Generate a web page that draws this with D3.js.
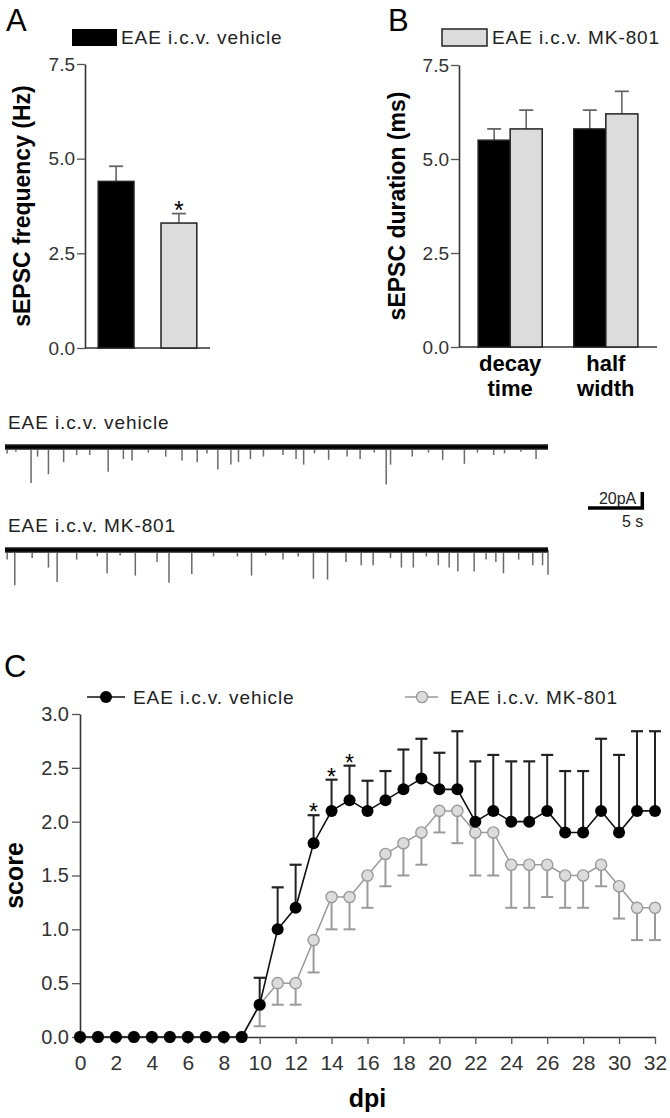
<!DOCTYPE html>
<html><head><meta charset="utf-8">
<script src="https://cdn.jsdelivr.net/npm/d3@7"></script>
<style>
body{margin:0;background:#fff}
svg{display:block}
text{font-family:"Liberation Sans",Arial,Helvetica,sans-serif}
</style>
</head><body>
<svg id="chart" width="670" height="1118"></svg>
<script>
// ---------------- DATA ----------------
const groups = ["EAE i.c.v. vehicle", "EAE i.c.v. MK-801"];
// Panel A
const freqMean = [4.4, 3.3];
const freqSem = [0.4, 0.25];
const freqSig = [false, true];
const barTicks = [0, 2.5, 5.0, 7.5];
// Panel B
const durCats = ["decay time", "half width"];
const durVehicle = [5.5, 5.8];
const durVehicleSem = [0.3, 0.5];
const durMK = [5.8, 6.2];
const durMKSem = [0.5, 0.6];
// Traces: spike time (s) and amplitude (pA)
const trace1Time = [0.2,1.0,2.4,3.0,4.0,5.4,6.6,7.8,9.5,10.9,11.7,13.2,14.8,16.3,17.7,18.6,19.6,20.8,21.5,22.6,23.8,25.6,26.8,27.5,28.5,29.8,31.5,32.7,34.0,35.1,35.5,37.5,39.0,40.3,42.3,43.5,45.0,46.0,47.5,48.9];
const trace1Amp  = [8,6,45,12,34,19,10,10,31,15,17,7,12,17,19,8,28,22,19,15,12,10,15,22,8,16,12,15,7,47,22,12,7,16,21,7,10,8,6,15];
const trace2Time = [0.2,0.9,2.5,4.0,4.8,6.6,8.5,9.4,10.6,12.0,14.0,15.1,17.2,19.2,21.4,22.7,24.0,25.6,27.0,28.4,29.7,31.4,32.8,33.9,35.5,36.5,37.6,38.8,39.9,40.9,41.7,43.2,44.3,45.2,45.9,47.3,48.6,49.5,50.0];
const trace2Amp  = [12,44,10,22,40,12,8,29,7,32,15,41,30,8,8,32,7,12,8,36,37,15,19,19,10,22,22,8,19,22,27,27,12,15,29,12,19,19,31];
const scaleBarTime = 5;   // s
const scaleBarAmp = 20;   // pA
// Panel C
const days = [0,1,2,3,4,5,6,7,8,9,10,11,12,13,14,15,16,17,18,19,20,21,22,23,24,25,26,27,28,29,30,31,32];
const vehicleScore = [0,0,0,0,0,0,0,0,0,0,0.3,1.0,1.2,1.8,2.1,2.2,2.1,2.2,2.3,2.4,2.3,2.3,2.0,2.1,2.0,2.0,2.1,1.9,1.9,2.1,1.9,2.1,2.1];
const vehicleSem   = [0,0,0,0,0,0,0,0,0,0,0.25,0.39,0.4,0.26,0.29,0.32,0.28,0.27,0.37,0.37,0.34,0.54,0.56,0.52,0.56,0.56,0.52,0.57,0.57,0.67,0.72,0.74,0.74];
const mkScore = [0,0,0,0,0,0,0,0,0,0,0.3,0.5,0.5,0.9,1.3,1.3,1.5,1.7,1.8,1.9,2.1,2.1,1.9,1.9,1.6,1.6,1.6,1.5,1.5,1.6,1.4,1.2,1.2];
const mkSem   = [0,0,0,0,0,0,0,0,0,0,0.2,0.2,0.2,0.3,0.3,0.3,0.3,0.3,0.3,0.3,0.2,0.3,0.4,0.4,0.4,0.4,0.3,0.3,0.3,0.2,0.3,0.3,0.3];
const sigDays = [13, 14, 15];
const scoreTicks = [0, 0.5, 1.0, 1.5, 2.0, 2.5, 3.0];
const dayTicks = [0,2,4,6,8,10,12,14,16,18,20,22,24,26,28,30,32];

// ---------------- STYLE ----------------
const BLACK = "#000";
const GREY_FILL = "#dcdcdc";
const GREY_LINE = "#9a9a9a";
const AXIS = "#333";
const TICKTXT = "#333";
const LEG_FS = 19, LEG_LS = 0.9;

const svg = d3.select("#chart");

function styleAxis(g, fs) {
  g.select(".domain").attr("stroke", AXIS).attr("stroke-width", 1.6);
  g.selectAll(".tick line").attr("stroke", "#555").attr("stroke-width", 1.3);
  g.selectAll(".tick text").attr("fill", TICKTXT).attr("font-size", fs)
    .attr("font-family", '"Liberation Sans",Arial,sans-serif');
}

// ---------------- PANEL A ----------------
const yA = d3.scaleLinear().domain([0, 7.5]).range([348, 64]);
const xA = d3.scaleBand().domain(groups).range([85, 210]).paddingInner(0.43).paddingOuter(0.21);
svg.append("text").attr("x", 6).attr("y", 31).attr("font-size", 31).text("A");
svg.append("g").attr("transform", "translate(85,0)")
  .call(d3.axisLeft(yA).tickValues(barTicks).tickFormat(d3.format(".1f")).tickSize(8).tickSizeOuter(0).tickPadding(2))
  .call(g => styleAxis(g, 19));
svg.append("line").attr("x1", 85).attr("x2", 210).attr("y1", yA(0)).attr("y2", yA(0))
  .attr("stroke", AXIS).attr("stroke-width", 1.6);
const barsA = svg.append("g");
groups.forEach((gName, i) => {
  const x0 = xA(gName), w = xA.bandwidth(), cx = x0 + w / 2;
  const topV = freqMean[i] + freqSem[i];
  barsA.append("line").attr("x1", cx).attr("x2", cx).attr("y1", yA(freqMean[i])).attr("y2", yA(topV))
    .attr("stroke", "#666").attr("stroke-width", 1.6);
  barsA.append("line").attr("x1", cx - 7).attr("x2", cx + 7).attr("y1", yA(topV)).attr("y2", yA(topV))
    .attr("stroke", "#666").attr("stroke-width", 1.8);
  barsA.append("rect").attr("x", x0).attr("y", yA(freqMean[i])).attr("width", w)
    .attr("height", yA(0) - yA(freqMean[i]))
    .attr("fill", i === 0 ? BLACK : GREY_FILL).attr("stroke", "#222").attr("stroke-width", 1.5);
  if (freqSig[i]) {
    barsA.append("text").attr("x", cx).attr("y", yA(topV) + 5).attr("text-anchor", "middle")
      .attr("font-size", 25).text("*");
  }
});
svg.append("text").attr("transform", `translate(30,${(yA(0) + yA(7.5)) / 2}) rotate(-90)`)
  .attr("text-anchor", "middle").attr("font-size", 23).attr("font-weight", "bold").text("sEPSC frequency (Hz)");
// legend A
svg.append("rect").attr("x", 72).attr("y", 29).attr("width", 45).attr("height", 17).attr("fill", BLACK);
svg.append("text").attr("x", 121).attr("y", 44).attr("font-size", LEG_FS).attr("letter-spacing", LEG_LS).attr("fill", "#222").text(groups[0]);

// ---------------- PANEL B ----------------
const yB = d3.scaleLinear().domain([0, 7.5]).range([347, 65]);
const xB0 = d3.scaleBand().domain(durCats).range([459, 657]).paddingInner(0.33).paddingOuter(0.2);
const xB1 = d3.scaleBand().domain(groups).range([0, xB0.bandwidth()]);
svg.append("text").attr("x", 388).attr("y", 31).attr("font-size", 31).text("B");
svg.append("g").attr("transform", "translate(459,0)")
  .call(d3.axisLeft(yB).tickValues(barTicks).tickFormat(d3.format(".1f")).tickSize(8).tickSizeOuter(0).tickPadding(2))
  .call(g => styleAxis(g, 19));
svg.append("line").attr("x1", 459).attr("x2", 657).attr("y1", yB(0)).attr("y2", yB(0))
  .attr("stroke", AXIS).attr("stroke-width", 1.6);
const barsB = svg.append("g");
durCats.forEach((cat, ci) => {
  [durVehicle, durMK].forEach((series, si) => {
    const sem = si === 0 ? durVehicleSem : durMKSem;
    const x0 = xB0(cat) + xB1(groups[si]), w = xB1.bandwidth(), cx = x0 + w / 2;
    const topV = series[ci] + sem[ci];
    barsB.append("line").attr("x1", cx).attr("x2", cx).attr("y1", yB(series[ci])).attr("y2", yB(topV))
      .attr("stroke", "#666").attr("stroke-width", 1.6);
    barsB.append("line").attr("x1", cx - 7).attr("x2", cx + 7).attr("y1", yB(topV)).attr("y2", yB(topV))
      .attr("stroke", "#666").attr("stroke-width", 1.8);
    barsB.append("rect").attr("x", x0).attr("y", yB(series[ci])).attr("width", w)
      .attr("height", yB(0) - yB(series[ci]))
      .attr("fill", si === 0 ? BLACK : GREY_FILL).attr("stroke", "#222").attr("stroke-width", 1.5);
  });
  const words = cat.split(" ");
  words.forEach((wd, wi) => {
    svg.append("text").attr("text-anchor", "middle").attr("font-size", 22).attr("font-weight", "bold")
      .attr("x", xB0(cat) + xB0.bandwidth() / 2).attr("y", 371 + wi * 25).text(wd);
  });
});
svg.append("text").attr("transform", `translate(405,${(yB(0) + yB(7.5)) / 2}) rotate(-90)`)
  .attr("text-anchor", "middle").attr("font-size", 23).attr("font-weight", "bold").text("sEPSC duration (ms)");
// legend B
svg.append("rect").attr("x", 442).attr("y", 29).attr("width", 45).attr("height", 17)
  .attr("fill", GREY_FILL).attr("stroke", "#222").attr("stroke-width", 1.5);
svg.append("text").attr("x", 492).attr("y", 44).attr("font-size", LEG_FS).attr("letter-spacing", LEG_LS).attr("fill", "#222").text(groups[1]);

// ---------------- TRACES ----------------
const xT = d3.scaleLinear().domain([0, 50]).range([5, 548]);
function drawTrace(baseY, times, amps, label) {
  const yT = d3.scaleLinear().domain([0, -50]).range([baseY, baseY + 40]);
  svg.append("text").attr("x", 8).attr("y", baseY - 18).attr("font-size", LEG_FS).attr("letter-spacing", LEG_LS)
    .attr("fill", "#222").text(label);
  const g = svg.append("g");
  g.selectAll("line.sp").data(times).join("line")
    .attr("x1", d => xT(d)).attr("x2", d => xT(d))
    .attr("y1", yT(0)).attr("y2", (d, i) => yT(-amps[i]))
    .attr("stroke", "#6a6a6a").attr("stroke-width", 1.5);
  g.append("line").attr("x1", xT(0)).attr("x2", xT(50)).attr("y1", yT(0)).attr("y2", yT(0))
    .attr("stroke", "#555").attr("stroke-width", 6);
  g.append("line").attr("x1", xT(0)).attr("x2", xT(50)).attr("y1", yT(0)).attr("y2", yT(0))
    .attr("stroke", "#000").attr("stroke-width", 3.5);
  return yT;
}
const yT1 = drawTrace(447, trace1Time, trace1Amp, groups[0]);
drawTrace(550, trace2Time, trace2Amp, groups[1]);
// scale bar
const sbX0 = 588, sbY = 508;
const sbLen = xT(scaleBarTime) - xT(0);
const sbH = yT1(-scaleBarAmp) - yT1(0);
svg.append("path").attr("d", `M${sbX0},${sbY} H${sbX0 + sbLen} V${sbY - sbH}`)
  .attr("fill", "none").attr("stroke", BLACK).attr("stroke-width", 3.5);
svg.append("text").attr("x", sbX0 + sbLen - 6).attr("y", 504).attr("text-anchor", "end").attr("font-size", 16).attr("fill", "#222").text("20pA");
svg.append("text").attr("x", sbX0 + sbLen + 1).attr("y", 527).attr("text-anchor", "end").attr("font-size", 16).attr("fill", "#222").text("5 s");

// ---------------- PANEL C ----------------
const xC = d3.scaleLinear().domain([0, 32]).range([80, 655]);
const yC = d3.scaleLinear().domain([0, 3]).range([1037, 714]);
svg.append("text").attr("x", 4).attr("y", 677).attr("font-size", 31).text("C");
svg.append("g").attr("transform", "translate(80,0)")
  .call(d3.axisLeft(yC).tickValues(scoreTicks).tickFormat(d3.format(".1f")).tickSize(8).tickSizeOuter(0).tickPadding(3))
  .call(g => styleAxis(g, 20));
svg.append("g").attr("transform", `translate(0,${yC(0)})`)
  .call(d3.axisBottom(xC).tickValues(dayTicks).tickFormat(d3.format("d")).tickSize(7).tickSizeOuter(0).tickPadding(11))
  .call(g => styleAxis(g, 21));
svg.append("text").attr("transform", `translate(23,${(yC(0) + yC(3)) / 2}) rotate(-90)`)
  .attr("text-anchor", "middle").attr("font-size", 25).attr("font-weight", "bold").text("score");
svg.append("text").attr("x", (xC(0) + xC(32)) / 2).attr("y", 1107).attr("text-anchor", "middle")
  .attr("font-size", 25).attr("font-weight", "bold").text("dpi");

const lineGen = d3.line().x((d, i) => xC(days[i])).y(d => yC(d));
// MK-801 series (behind)
const gM = svg.append("g");
days.forEach((d, i) => {
  if (mkSem[i] > 0) {
    const lo = mkScore[i] - mkSem[i];
    gM.append("line").attr("x1", xC(d)).attr("x2", xC(d)).attr("y1", yC(mkScore[i])).attr("y2", yC(lo))
      .attr("stroke", GREY_LINE).attr("stroke-width", 2);
    gM.append("line").attr("x1", xC(d) - 6).attr("x2", xC(d) + 6).attr("y1", yC(lo)).attr("y2", yC(lo))
      .attr("stroke", GREY_LINE).attr("stroke-width", 2);
  }
});
gM.append("path").datum(mkScore).attr("d", lineGen).attr("fill", "none").attr("stroke", GREY_LINE).attr("stroke-width", 1.5);
gM.selectAll("circle").data(mkScore).join("circle")
  .attr("cx", (d, i) => xC(days[i])).attr("cy", d => yC(d)).attr("r", 5.6)
  .attr("fill", GREY_FILL).attr("stroke", GREY_LINE).attr("stroke-width", 1.4);
// Vehicle series
const gV = svg.append("g");
days.forEach((d, i) => {
  if (vehicleSem[i] > 0) {
    const hi = vehicleScore[i] + vehicleSem[i];
    gV.append("line").attr("x1", xC(d)).attr("x2", xC(d)).attr("y1", yC(vehicleScore[i])).attr("y2", yC(hi))
      .attr("stroke", "#222").attr("stroke-width", 2);
    gV.append("line").attr("x1", xC(d) - 6).attr("x2", xC(d) + 6).attr("y1", yC(hi)).attr("y2", yC(hi))
      .attr("stroke", "#222").attr("stroke-width", 2.2);
  }
});
gV.append("path").datum(vehicleScore).attr("d", lineGen).attr("fill", "none").attr("stroke", "#111").attr("stroke-width", 1.6);
gV.selectAll("circle").data(vehicleScore).join("circle")
  .attr("cx", (d, i) => xC(days[i])).attr("cy", d => yC(d)).attr("r", 6)
  .attr("fill", BLACK);
sigDays.forEach(d => {
  const i = days.indexOf(d);
  const hi = vehicleScore[i] + vehicleSem[i];
  svg.append("text").attr("x", xC(d)).attr("y", yC(hi) + 5).attr("text-anchor", "middle")
    .attr("font-size", 23).text("*");
});
// legend C
svg.append("line").attr("x1", 87).attr("x2", 125).attr("y1", 697).attr("y2", 697).attr("stroke", "#111").attr("stroke-width", 1.6);
svg.append("circle").attr("cx", 106).attr("cy", 697).attr("r", 6).attr("fill", BLACK);
svg.append("text").attr("x", 133).attr("y", 704).attr("font-size", LEG_FS).attr("letter-spacing", LEG_LS).attr("fill", "#222").text(groups[0]);
svg.append("line").attr("x1", 405).attr("x2", 438).attr("y1", 697).attr("y2", 697).attr("stroke", GREY_LINE).attr("stroke-width", 1.5);
svg.append("circle").attr("cx", 422).attr("cy", 697).attr("r", 5.6).attr("fill", GREY_FILL).attr("stroke", GREY_LINE).attr("stroke-width", 1.4);
svg.append("text").attr("x", 450).attr("y", 704).attr("font-size", LEG_FS).attr("letter-spacing", LEG_LS).attr("fill", "#222").text(groups[1]);
</script>
</body></html>
